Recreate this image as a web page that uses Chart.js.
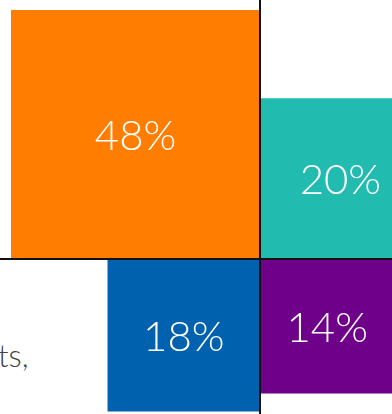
<!DOCTYPE html>
<html>
<head>
<meta charset="utf-8">
<script src="https://cdn.jsdelivr.net/npm/chart.js@4.4.1/dist/chart.umd.min.js"></script>
<style>
  html, body { margin: 0; padding: 0; background: #fff; overflow: hidden; }
  #wrap { position: relative; width: 392px; height: 414px; }
  #shareChart { position: absolute; left: 0; top: 0; }
  .note {
    position: absolute; left: -2px; top: 336px;
    font-family: Lato, sans-serif; font-weight: 300;
    font-size: 31px; color: #444; white-space: nowrap;
  }
</style>
</head>
<body>
<div id="wrap">
  <div class="note">ts,</div>
  <canvas id="shareChart" width="392" height="414"></canvas>
</div>
<script>
// share of each group, in percent
const shares = [48, 20, 18, 14];
const shareLabels = shares.map(v => v + '%');
const colors = ['#FF7D00', '#22BBAF', '#0062AF', '#6E008A'];

// which quadrant each square grows into, from the centre cross
const quadrants = [[-1, 1], [1, 1], [-1, -1], [1, -1]];

// square side in axis units is sqrt(share), so area follows the share
const points = shares.map((v, i) => {
    const side = Math.sqrt(v);
    return { x: quadrants[i][0] * side / 2, y: quadrants[i][1] * side / 2, v: v };
});

function sidePixels(ctx) {
    const xs = ctx.chart.scales.x;
    if (!ctx.raw) return 0;
    return Math.abs(xs.getPixelForValue(Math.sqrt(ctx.raw.v)) - xs.getPixelForValue(0));
}

const crossAndLabels = {
    id: 'crossAndLabels',
    afterDatasetsDraw(chart) {
        const c = chart.ctx;
        const xs = chart.scales.x, ys = chart.scales.y;
        const ox = xs.getPixelForValue(0), oy = ys.getPixelForValue(0);
        c.save();
        c.strokeStyle = '#111';
        c.lineWidth = 2;
        c.beginPath();
        c.moveTo(ox, 0); c.lineTo(ox, chart.height);
        c.moveTo(0, oy); c.lineTo(chart.width, oy);
        c.stroke();

        c.fillStyle = '#fff';
        c.font = '300 42px Lato';
        c.textAlign = 'center';
        c.textBaseline = 'middle';
        chart.getDatasetMeta(0).data.forEach((pt, i) => {
            c.fillText(shareLabels[i], pt.x, pt.y + 2);
        });
        c.restore();
    }
};

new Chart(document.getElementById('shareChart').getContext('2d'), {
    type: 'scatter',
    data: {
        datasets: [{
            data: points,
            backgroundColor: colors,
            borderWidth: 0,
            pointStyle: 'rect',
            pointRadius: ctx => sidePixels(ctx) / Math.SQRT2,
            pointHoverRadius: ctx => sidePixels(ctx) / Math.SQRT2
        }]
    },
    options: {
        responsive: false,
        animation: false,
        layout: { padding: 0 },
        plugins: { legend: { display: false }, tooltip: { enabled: false } },
        scales: {
            x: { display: false, min: -260 / 35.94, max: 132 / 35.94 },
            y: { display: false, min: -155 / 35.94, max: 259 / 35.94 }
        }
    },
    plugins: [crossAndLabels]
});
</script>
</body>
</html>
